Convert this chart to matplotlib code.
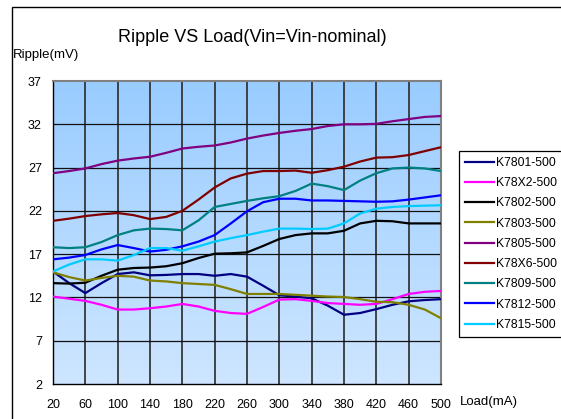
import numpy as np
import matplotlib
matplotlib.use("Agg")
import matplotlib.pyplot as plt
from matplotlib.patches import Rectangle

plt.rcParams['font.family'] = ['Liberation Sans', 'DejaVu Sans']

# load points (mA)
load = [20, 40, 60, 80, 100, 120, 140, 160, 180, 200, 220, 240, 260,
        280, 300, 320, 340, 360, 380, 400, 420, 440, 460, 480, 500]

k7801 = [15.0, 13.65, 12.5, 13.65, 14.7, 14.9, 14.55, 14.6, 14.7, 14.7, 14.5, 14.7, 14.4,
         13.35, 12.25, 12.1, 11.9, 11.05, 10.0, 10.2, 10.65, 11.15, 11.55, 11.7, 11.8]
k78x2 = [12.1, 11.85, 11.6, 11.15, 10.6, 10.6, 10.75, 10.95, 11.25, 10.95, 10.45, 10.2, 10.1,
         10.9, 11.75, 11.8, 11.6, 11.35, 11.25, 11.15, 11.25, 11.8, 12.4, 12.65, 12.75]
k7802 = [13.65, 13.6, 13.7, 14.5, 15.2, 15.4, 15.45, 15.6, 15.95, 16.55, 17.05, 17.1, 17.2,
         17.95, 18.75, 19.2, 19.4, 19.4, 19.7, 20.55, 20.85, 20.8, 20.55, 20.55, 20.55]
k7803 = [14.9, 14.35, 13.95, 14.25, 14.5, 14.4, 13.95, 13.85, 13.65, 13.55, 13.45, 12.95, 12.4,
         12.4, 12.4, 12.3, 12.2, 12.1, 12.05, 11.8, 11.5, 11.45, 11.15, 10.6, 9.6]
k7805 = [26.35, 26.6, 26.9, 27.4, 27.8, 28.05, 28.25, 28.7, 29.2, 29.4, 29.55, 29.9, 30.35,
         30.7, 31.0, 31.25, 31.45, 31.8, 32.0, 32.0, 32.05, 32.35, 32.6, 32.85, 32.95]
k78x6 = [20.85, 21.1, 21.4, 21.6, 21.75, 21.5, 21.05, 21.3, 22.0, 23.3, 24.7, 25.75, 26.3,
         26.6, 26.6, 26.65, 26.4, 26.7, 27.1, 27.7, 28.15, 28.2, 28.45, 28.9, 29.35]
k7809 = [17.8, 17.7, 17.8, 18.4, 19.2, 19.75, 19.95, 19.9, 19.75, 20.9, 22.45, 22.8, 23.15,
         23.45, 23.7, 24.3, 25.15, 24.85, 24.4, 25.5, 26.35, 26.9, 27.0, 26.9, 26.6]
k7812 = [16.4, 16.6, 16.9, 17.55, 18.05, 17.7, 17.3, 17.5, 17.9, 18.45, 19.2, 20.55, 21.95,
         23.0, 23.4, 23.4, 23.2, 23.2, 23.15, 23.1, 23.05, 23.1, 23.3, 23.55, 23.8]
k7815 = [15.0, 15.8, 16.4, 16.4, 16.25, 16.9, 17.7, 17.7, 17.4, 17.9, 18.45, 18.85, 19.2,
         19.6, 19.95, 19.95, 19.9, 19.95, 20.55, 21.7, 22.25, 22.45, 22.55, 22.6, 22.65]

series = [
    ("K7801-500", k7801, "#000080"),
    ("K78X2-500", k78x2, "#FF00FF"),
    ("K7802-500", k7802, "#000000"),
    ("K7803-500", k7803, "#808000"),
    ("K7805-500", k7805, "#800080"),
    ("K78X6-500", k78x6, "#800000"),
    ("K7809-500", k7809, "#008080"),
    ("K7812-500", k7812, "#0000FF"),
    ("K7815-500", k7815, "#00CCFF"),
]

x_ticks = list(range(20, 501, 40))
y_ticks = [2, 7, 12, 17, 22, 27, 32, 37]

fig = plt.figure(figsize=(5.61, 4.19), dpi=100)
ax = fig.add_axes([53 / 561, 1 - 384 / 419, 388 / 561, 303 / 419])

# gradient background of the plot area
grad = np.linspace(0, 1, 256).reshape(-1, 1)
top_c = np.array([153, 204, 255]) / 255
bot_c = np.array([206, 230, 255]) / 255
img = top_c * (1 - grad[..., None]) + bot_c * grad[..., None]
ax.imshow(img, extent=[20, 500, 2, 37], aspect='auto', origin='upper', zorder=0)

for xv in x_ticks[1:-1]:
    ax.axvline(xv, color='#2a2a2a', lw=1.2, zorder=1)
for yv in y_ticks[1:-1]:
    ax.axhline(yv, color='#111111', lw=0.9, zorder=1)

for name, vals, col in series:
    ax.plot(load, vals, color=col, lw=1.6, label=name, zorder=3)

ax.set_xlim(20, 500)
ax.set_ylim(2, 37)
ax.set_xticks(x_ticks)
ax.set_yticks(y_ticks)
ax.tick_params(length=0, labelsize=9)
ax.tick_params(axis='y', pad=8)
ax.tick_params(axis='x', pad=11)
for s in ['top', 'right']:
    ax.spines[s].set_color('#808080')
    ax.spines[s].set_linewidth(1.5)
for s in ['left', 'bottom']:
    ax.spines[s].set_color('#000000')
    ax.spines[s].set_linewidth(1.0)

fig.text(252 / 561, 1 - 37 / 419, "Ripple VS Load(Vin=Vin-nominal)",
         ha='center', va='center', fontsize=13)
fig.text(13 / 561, 1 - 55 / 419, "Ripple(mV)", ha='left', va='center', fontsize=9.5)
fig.text(460 / 561, 1 - 402 / 419, "Load(mA)", ha='left', va='center', fontsize=9.5)

# outer chart frame (runs off the right and bottom edges)
fig.add_artist(Rectangle((11.5 / 561, -0.2), 1.2, 1.2 - 7 / 419,
                         transform=fig.transFigure, fill=False,
                         edgecolor='black', lw=1.0, clip_on=False))

leg = ax.legend(loc='upper left', bbox_to_anchor=(459 / 561, 1 - 151 / 419),
                bbox_transform=fig.transFigure, fontsize=8.7, frameon=True,
                fancybox=False, edgecolor='black', framealpha=1,
                handlelength=2.4, handletextpad=0.2, labelspacing=0.68,
                borderpad=0.5, borderaxespad=0)
leg.get_frame().set_linewidth(0.9)

fig.savefig("out.png", dpi=100)
